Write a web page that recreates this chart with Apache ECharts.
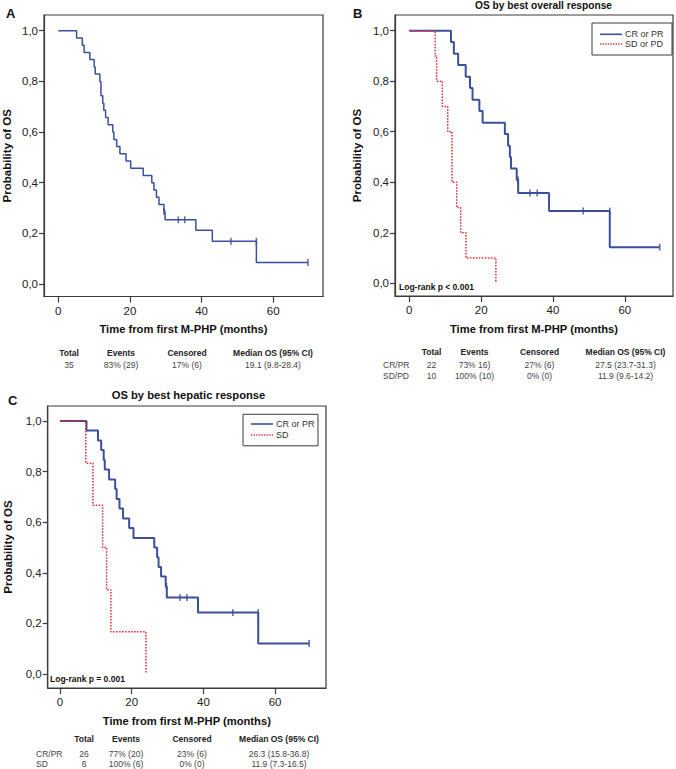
<!DOCTYPE html>
<html>
<head>
<meta charset="utf-8">
<script src="https://cdn.jsdelivr.net/npm/echarts@6/dist/echarts.min.js"></script>
<style>
  html, body { margin: 0; padding: 0; background: #fff; }
  #chart { width: 676px; height: 769px; }
</style>
</head>
<body>
<div id="chart"></div>
<script>
// ticks shared by the three panels
var xTicks = [0, 20, 40, 60];
var yTicks = [0, 0.2, 0.4, 0.6, 0.8, 1.0];

// A: all patients (months, survival)
var aTime = [0, 5.1, 6.7, 7.2, 8.8, 10.0, 10.3, 11.6, 11.9, 12.4, 12.7, 13.2, 13.9, 15.2, 15.5, 16.3, 17.2, 18.9, 20.2, 23.7, 26.1, 26.7, 27.4, 28.1, 29.5, 29.8, 38.4, 43.0, 55.3, 69.7];
var aSurv = [1.0, 0.971, 0.943, 0.914, 0.886, 0.857, 0.829, 0.800, 0.743, 0.714, 0.686, 0.657, 0.629, 0.600, 0.571, 0.543, 0.514, 0.486, 0.457, 0.429, 0.400, 0.371, 0.343, 0.314, 0.286, 0.254, 0.212, 0.169, 0.085, 0.085];
var aCensTime = [29.5, 33.5, 35.3, 48.2, 55.3, 69.7];
var aCensSurv = [0.286, 0.254, 0.254, 0.169, 0.169, 0.085];

// B: best overall response
var bCrTime = [0, 11.6, 12.4, 13.6, 15.7, 16.9, 17.6, 19.5, 20.4, 26.6, 27.5, 28.0, 28.3, 29.9, 30.3, 38.9, 55.8, 69.7];
var bCrSurv = [1.0, 0.955, 0.909, 0.864, 0.818, 0.773, 0.727, 0.682, 0.636, 0.591, 0.545, 0.500, 0.455, 0.409, 0.358, 0.286, 0.143, 0.143];
var bCrCensTime = [30.3, 33.6, 35.6, 48.4, 55.8, 69.7];
var bCrCensSurv = [0.409, 0.358, 0.358, 0.286, 0.286, 0.143];
var bSdTime = [0, 7.2, 7.6, 9.2, 10.7, 11.9, 13.2, 14.3, 15.8, 24.1];
var bSdSurv = [1.0, 0.9, 0.8, 0.7, 0.6, 0.4, 0.3, 0.2, 0.1, 0.0];

// C: best hepatic response
var cCrTime = [0, 7.4, 10.6, 11.5, 12.2, 12.5, 13.7, 15.4, 15.8, 16.6, 17.6, 19.3, 20.5, 26.3, 27.1, 27.5, 28.2, 29.5, 29.8, 38.5, 55.3, 69.5];
var cCrSurv = [1.0, 0.962, 0.923, 0.885, 0.846, 0.808, 0.769, 0.731, 0.692, 0.654, 0.615, 0.577, 0.538, 0.500, 0.462, 0.423, 0.385, 0.346, 0.303, 0.243, 0.121, 0.121];
var cCrCensTime = [29.7, 33.5, 35.4, 48.2, 55.3, 69.5];
var cCrCensSurv = [0.346, 0.303, 0.303, 0.243, 0.243, 0.121];
var cSdTime = [0, 7.2, 9.2, 11.9, 13.0, 14.2, 24.0];
var cSdSurv = [1.0, 0.833, 0.667, 0.500, 0.333, 0.167, 0.0];

// summary tables
var tableHead = ['Total', 'Events', 'Censored', 'Median OS (95% CI)'];
var aRows = [['', '35', '83% (29)', '17% (6)', '19.1 (9.8-28.4)']];
var bRows = [['CR/PR', '22', '73% 16)', '27% (6)', '27.5 (23.7-31.3)'],
             ['SD/PD', '10', '100% (10)', '0% (0)', '11.9 (9.6-14.2)']];
var cRows = [['CR/PR', '26', '77% (20)', '23% (6)', '26.3 (15.8-36.8)'],
             ['SD', '6', '100% (6)', '0% (0)', '11.9 (7.3-16.5)']];

var bLegend = ['CR or PR', 'SD or PD'];
var cLegend = ['CR or PR', 'SD'];

var BLUE = '#3b4f9e';
var RED = '#e8262b';
var FRAME = '#3a3a3a';
var FONT = 'Arial, "Liberation Sans", Helvetica, sans-serif';

function pairs(xs, ys) {
  return xs.map(function (x, i) { return [x, ys[i]]; });
}

function xAxisCfg(idx, min, max) {
  return {
    type: 'value', gridIndex: idx, min: min, max: max,
    name: 'Time from first M-PHP (months)', nameLocation: 'middle', nameGap: 27,
    nameTextStyle: { fontFamily: FONT, fontWeight: 'bold', fontSize: 11.2, color: '#111' },
    axisLine: { show: true, onZero: false, lineStyle: { color: FRAME, width: 1.2 } },
    axisTick: { show: true, length: 6, customValues: xTicks, lineStyle: { color: FRAME, width: 1.2 } },
    axisLabel: { customValues: xTicks, margin: 8, fontFamily: FONT, fontSize: 11.5, color: '#222' },
    splitLine: { show: false }
  };
}

function yAxisCfg(idx, min, max, gap) {
  return {
    type: 'value', gridIndex: idx, min: min, max: max,
    name: 'Probability of OS', nameLocation: 'middle', nameGap: gap, nameRotate: 90,
    nameTextStyle: { fontFamily: FONT, fontWeight: 'bold', fontSize: 11.5, color: '#111' },
    axisLine: { show: true, onZero: false, lineStyle: { color: FRAME, width: 1.2 } },
    axisTick: { show: true, length: 5, customValues: yTicks, lineStyle: { color: FRAME, width: 1.2 } },
    axisLabel: {
      customValues: yTicks, margin: 6, fontFamily: FONT, fontSize: 11.5, color: '#222',
      formatter: function (v) { return v.toFixed(1).replace('.', ','); }
    },
    splitLine: { show: false }
  };
}

function kmLine(name, idx, xs, ys, color, width, dotted) {
  return {
    name: name, type: 'line', xAxisIndex: idx, yAxisIndex: idx,
    step: 'end', symbol: 'none', showSymbol: false,
    lineStyle: { color: color, width: width, type: dotted ? [1.5, 1.5] : 'solid' },
    itemStyle: { color: color },
    data: pairs(xs, ys)
  };
}

function censMarks(name, idx, xs, ys) {
  return {
    name: name, type: 'scatter', xAxisIndex: idx, yAxisIndex: idx,
    symbol: 'rect', symbolSize: [1.6, 7], z: 5,
    itemStyle: { color: BLUE },
    data: pairs(xs, ys)
  };
}

function txt(s, x, y, size, bold, align, color) {
  return {
    type: 'text', silent: true,
    style: {
      text: s, x: x, y: y, fill: color || '#111',
      font: (bold ? 'bold ' : '') + size + 'px ' + FONT,
      align: align || 'left', verticalAlign: 'middle',
      textAlign: align || 'left', textVerticalAlign: 'middle'
    }
  };
}

function tableTexts(cols, headY, rowYs, labelX, rows) {
  var out = [];
  tableHead.forEach(function (h, i) {
    out.push(txt(h, cols[i], headY, 8.5, true, 'center', '#222'));
  });
  rows.forEach(function (r, j) {
    if (r[0]) out.push(txt(r[0], labelX, rowYs[j], 8.5, false, 'left', '#444'));
    for (var i = 1; i < r.length; i++) {
      out.push(txt(r[i], cols[i - 1], rowYs[j], 8.5, false, 'center', '#444'));
    }
  });
  return out;
}

// boxed legend like the original: solid blue and dotted red keys
function legendBox(names, x, y, w, h, rowYs) {
  var keyX = x + 8;
  return [
    { type: 'rect', silent: true, shape: { x: x, y: y, width: w, height: h },
      style: { fill: '#fff', stroke: FRAME, lineWidth: 1 }, z: 10 },
    { type: 'line', silent: true, shape: { x1: keyX, y1: rowYs[0], x2: keyX + 22, y2: rowYs[0] },
      style: { stroke: BLUE, lineWidth: 1.6 }, z: 11 },
    { type: 'line', silent: true, shape: { x1: keyX, y1: rowYs[1], x2: keyX + 22, y2: rowYs[1] },
      style: { stroke: RED, lineWidth: 1.3, lineDash: [1.3, 1.3] }, z: 11 },
    Object.assign(txt(names[0], keyX + 25, rowYs[0], 9, false, 'left', '#333'), { z: 11 }),
    Object.assign(txt(names[1], keyX + 25, rowYs[1], 9, false, 'left', '#333'), { z: 11 })
  ];
}

var graphics = [
  txt('A', 6, 13, 13, true),
  txt('B', 353, 13, 13, true),
  txt('C', 8, 400.5, 13, true),
  txt('OS by best overall response', 543.5, 5.5, 10.2, true, 'center'),
  txt('OS by best hepatic response', 188.5, 395, 11.2, true, 'center'),
  txt('Log-rank p < 0.001', 399, 287, 8.5, true),
  txt('Log-rank p = 0.001', 50, 679, 8.5, true)
]
  .concat(legendBox(bLegend, 592, 23, 80, 32, [34.3, 44]))
  .concat(legendBox(cLegend, 243, 414.3, 75, 31.5, [424, 435]))
  .concat(tableTexts([69, 121, 187, 273], 352.5, [364.5], 0, aRows))
  .concat(tableTexts([431.5, 474.5, 539.5, 625.5], 351.7, [365, 376], 383, bRows))
  .concat(tableTexts([84, 126, 192, 279], 739, [754, 764], 36, cRows));

var option = {
  animation: false,
  backgroundColor: '#fff',
  textStyle: { fontFamily: FONT },
  grid: [
    { left: 44, top: 15, width: 279, height: 281.5, show: true, borderColor: FRAME, borderWidth: 1.2, outerBoundsMode: 'none' },
    { left: 395, top: 15, width: 278, height: 281, show: true, borderColor: FRAME, borderWidth: 1.2, outerBoundsMode: 'none' },
    { left: 47.7, top: 406, width: 278.3, height: 282, show: true, borderColor: FRAME, borderWidth: 1.2, outerBoundsMode: 'none' }
  ],
  xAxis: [
    xAxisCfg(0, -4, 73.9),
    xAxisCfg(1, -3.98, 73.4),
    xAxisCfg(2, -3.42, 74.2)
  ],
  yAxis: [
    yAxisCfg(0, -0.049, 1.062, 31),
    yAxisCfg(1, -0.050, 1.062, 32.5),
    yAxisCfg(2, -0.055, 1.059, 34)
  ],
  series: [
    kmLine('All', 0, aTime, aSurv, BLUE, 1.5, false),
    censMarks('All censored', 0, aCensTime, aCensSurv),
    kmLine('CR or PR', 1, bCrTime, bCrSurv, BLUE, 2, false),
    kmLine('SD or PD', 1, bSdTime, bSdSurv, RED, 1.5, true),
    censMarks('B censored', 1, bCrCensTime, bCrCensSurv),
    kmLine('CR or PR', 2, cCrTime, cCrSurv, BLUE, 2, false),
    kmLine('SD', 2, cSdTime, cSdSurv, RED, 1.5, true),
    censMarks('C censored', 2, cCrCensTime, cCrCensSurv)
  ],
  graphic: graphics
};

var chart = echarts.init(document.getElementById('chart'), null, { renderer: 'svg' });
chart.setOption(option);
</script>
</body>
</html>
